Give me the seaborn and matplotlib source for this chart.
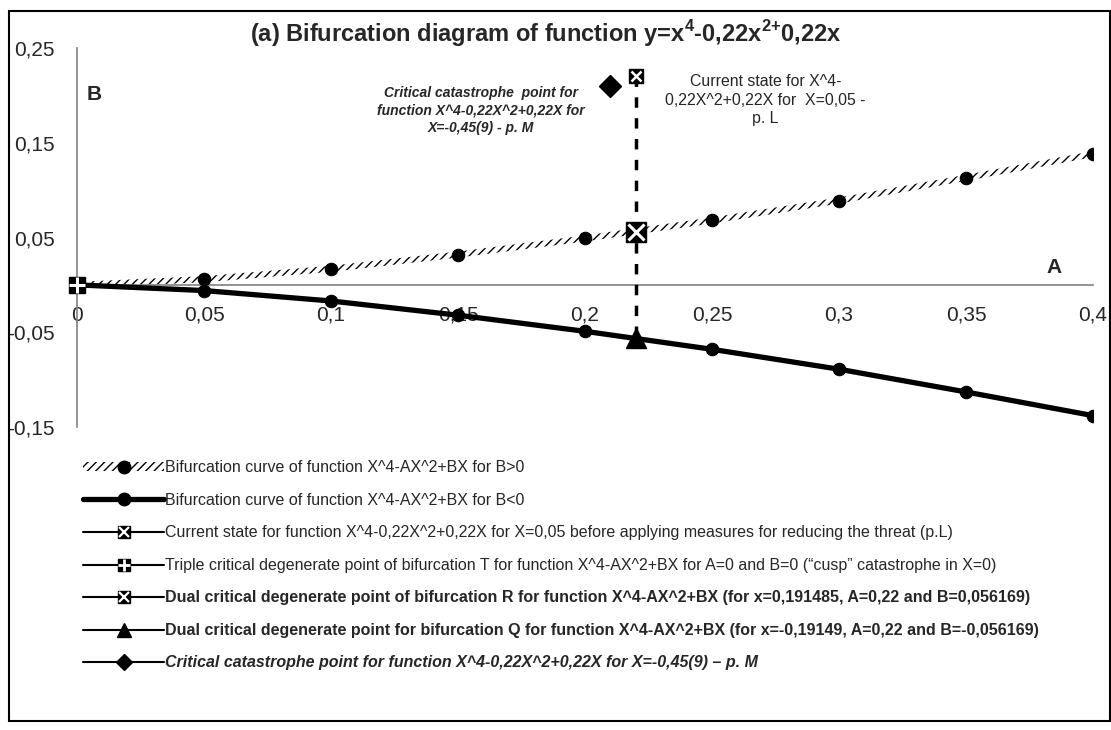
import numpy as np
import pandas as pd
import matplotlib
matplotlib.use("Agg")
import matplotlib.pyplot as plt
import seaborn as sns
from matplotlib.lines import Line2D
from matplotlib.patches import Rectangle, Patch
from matplotlib.legend_handler import HandlerTuple
from matplotlib.ticker import FuncFormatter, FixedLocator

# values
a_values = [0, 0.05, 0.1, 0.15, 0.2, 0.25, 0.3, 0.35, 0.4]
b_upper = [0, 0.006, 0.017, 0.032, 0.049, 0.068, 0.089, 0.113, 0.138]
b_lower = [0, -0.006, -0.017, -0.032, -0.049, -0.068, -0.089, -0.113, -0.138]

point_L = (0.22, 0.22)     # current state
point_R = (0.22, 0.056)    # dual point R
point_Q = (0.22, -0.056)   # dual point Q
point_T = (0.0, 0.0)       # triple point T
point_M = (0.21, 0.21)     # catastrophe point M

x_ticks = [0, 0.05, 0.1, 0.15, 0.2, 0.25, 0.3, 0.35, 0.4]
y_ticks = [-0.15, -0.05, 0.05, 0.15, 0.25]

legend_labels = [
    "Bifurcation curve of function X^4-AX^2+BX for B>0",
    "Bifurcation curve of function X^4-AX^2+BX for B<0",
    "Current state for function X^4-0,22X^2+0,22X for X=0,05 before applying measures for reducing the threat (p.L)",
    "Triple critical degenerate point of bifurcation T for function X^4-AX^2+BX for A=0 and B=0 (\u201ccusp\u201d catastrophe in X=0)",
    "Dual critical degenerate point of bifurcation R for function X^4-AX^2+BX (for x=0,191485, A=0,22 and B=0,056169)",
    "Dual critical degenerate point for bifurcation Q for function X^4-AX^2+BX (for x=-0,19149, A=0,22 and B=-0,056169)",
    "Critical catastrophe point for function X^4-0,22X^2+0,22X for X=-0,45(9) \u2013 p. M",
]

sns.set_style("white")
plt.rcParams['font.family'] = ['Liberation Sans', 'DejaVu Sans']
plt.rcParams['mathtext.fontset'] = 'custom'
plt.rcParams['mathtext.rm'] = 'Liberation Sans'
plt.rcParams['mathtext.bf'] = 'Liberation Sans:bold'
plt.rcParams['hatch.linewidth'] = 1.0

W, H = 1111, 730
fig = plt.figure(figsize=(W / 100, H / 100), dpi=100)
ax = fig.add_axes([77 / W, 1 - 427 / H, (1093 - 77) / W, (427 - 48) / H])

df_up = pd.DataFrame({'A': a_values, 'B': b_upper})
df_low = pd.DataFrame({'A': a_values, 'B': b_lower})

# hatched curve B>0
band = 0.0032
ax.fill_between(a_values, np.array(b_upper) - band, np.array(b_upper) + band,
                hatch='////', facecolor='none', edgecolor='black', linewidth=0, zorder=2)
sns.lineplot(data=df_up, x='A', y='B', ax=ax, linestyle='none', marker='o',
             markersize=9, color='black', markeredgecolor='black', zorder=4)

# thick curve B<0
sns.lineplot(data=df_low, x='A', y='B', ax=ax, linewidth=3.8, marker='o',
             markersize=9, color='black', markeredgecolor='black', zorder=3)

# vertical dashed line through the current state
ax.plot([point_L[0], point_Q[0]], [point_L[1], point_Q[1]], color='black',
        linewidth=2.5, dashes=(3, 3), zorder=3)

# point markers
ax.plot(*point_L, marker='s', markersize=9.5, color='black', zorder=5)
ax.plot(*point_L, marker='x', markersize=7.5, mew=1.8, color='white', zorder=6)
ax.plot(*point_R, marker='s', markersize=15, color='black', zorder=5)
ax.plot(*point_R, marker='x', markersize=12, mew=2.2, color='white', zorder=6)
ax.plot(*point_Q, marker='^', markersize=15, color='black', zorder=5)
ax.plot(*point_M, marker='D', markersize=11, color='black', zorder=5)
ax.plot(*point_T, marker='s', markersize=11, color='black', zorder=5, clip_on=False)
ax.plot(*point_T, marker='+', markersize=11, mew=2.2, color='white', zorder=6, clip_on=False)

ax.set_xlim(0, 0.4)
ax.set_ylim(-0.15, 0.25)
ax.xaxis.set_major_locator(FixedLocator(x_ticks))
ax.yaxis.set_major_locator(FixedLocator(y_ticks))
comma = FuncFormatter(lambda v, p: ('%g' % round(v, 3)).replace('.', ','))
ax.xaxis.set_major_formatter(comma)
ax.yaxis.set_major_formatter(comma)
ax.set_xlabel('')
ax.set_ylabel('')

for side in ['top', 'right']:
    ax.spines[side].set_visible(False)
ax.spines['bottom'].set_position(('data', 0))
for side in ['left', 'bottom']:
    ax.spines[side].set_color('#808080')
    ax.spines[side].set_linewidth(1.2)
ax.tick_params(axis='both', direction='out', length=5, width=1, color='#404040',
               labelsize=15, pad=11)
ax.tick_params(axis='x', pad=10)
ax.set_facecolor('none')

# axis letters
ax.text(0.3846, 0.018, 'A', fontsize=15, fontweight='bold', ha='center', va='center')
ax.text(0.0067, 0.201, 'B', fontsize=15, fontweight='bold', ha='center', va='center')

# annotations
ax.text(0.159, 0.184, "Critical catastrophe  point for\nfunction X^4-0,22X^2+0,22X for\nX=-0,45(9) - p. M",
        fontsize=10, fontweight='bold', fontstyle='italic', ha='center', va='center',
        linespacing=1.35)
ax.text(0.271, 0.195, "Current state for X^4-\n0,22X^2+0,22X for  X=0,05 -\np. L",
        fontsize=11.4, ha='center', va='center', linespacing=1.3)

# title
fig.text(546 / W, 1 - 34 / H,
         r"(a) Bifurcation diagram of function y=x$^{\mathbf{4}}$-0,22x$^{\mathbf{2}\mathbf{+}}$0,22x",
         fontsize=17, fontweight='bold', ha='center', va='center')

# chart border
fig.patches.append(Rectangle((9 / W, 1 - 721 / H), 1101 / W, 710 / H,
                             transform=fig.transFigure, fill=False,
                             edgecolor='black', linewidth=1.5))

# legend
line_kw = dict(color='black', linewidth=1.5)
h1 = (Patch(facecolor='none', edgecolor='black', hatch='////', linewidth=0),
      Line2D([], [], marker='o', markersize=9, linestyle='none', color='black'))
h2 = Line2D([], [], marker='o', markersize=9, linewidth=3.8, color='black')
h3 = (Line2D([], [], marker='s', markersize=8, **line_kw),
      Line2D([], [], marker='x', markersize=6.5, mew=1.6, linestyle='none', color='white'))
h4 = (Line2D([], [], marker='s', markersize=8, **line_kw),
      Line2D([], [], marker='+', markersize=8, mew=2.0, linestyle='none', color='white'))
h5 = (Line2D([], [], marker='s', markersize=8, **line_kw),
      Line2D([], [], marker='x', markersize=6.5, mew=1.6, linestyle='none', color='white'))
h6 = Line2D([], [], marker='^', markersize=10, **line_kw)
h7 = Line2D([], [], marker='D', markersize=8, **line_kw)

leg = fig.legend([h1, h2, h3, h4, h5, h6, h7], legend_labels,
                 loc='upper left', bbox_to_anchor=(83 / W, 1 - 460 / H),
                 frameon=False, fontsize=11.5, handlelength=5.1, handleheight=0.5,
                 handletextpad=0.05, labelspacing=1.1, borderpad=0, borderaxespad=0,
                 handler_map={tuple: HandlerTuple(ndivide=1, pad=0)})
texts = leg.get_texts()
texts[4].set_fontweight('bold')
texts[5].set_fontweight('bold')
texts[6].set_fontweight('bold')
texts[6].set_fontstyle('italic')

fig.savefig('out.png', dpi=100)
